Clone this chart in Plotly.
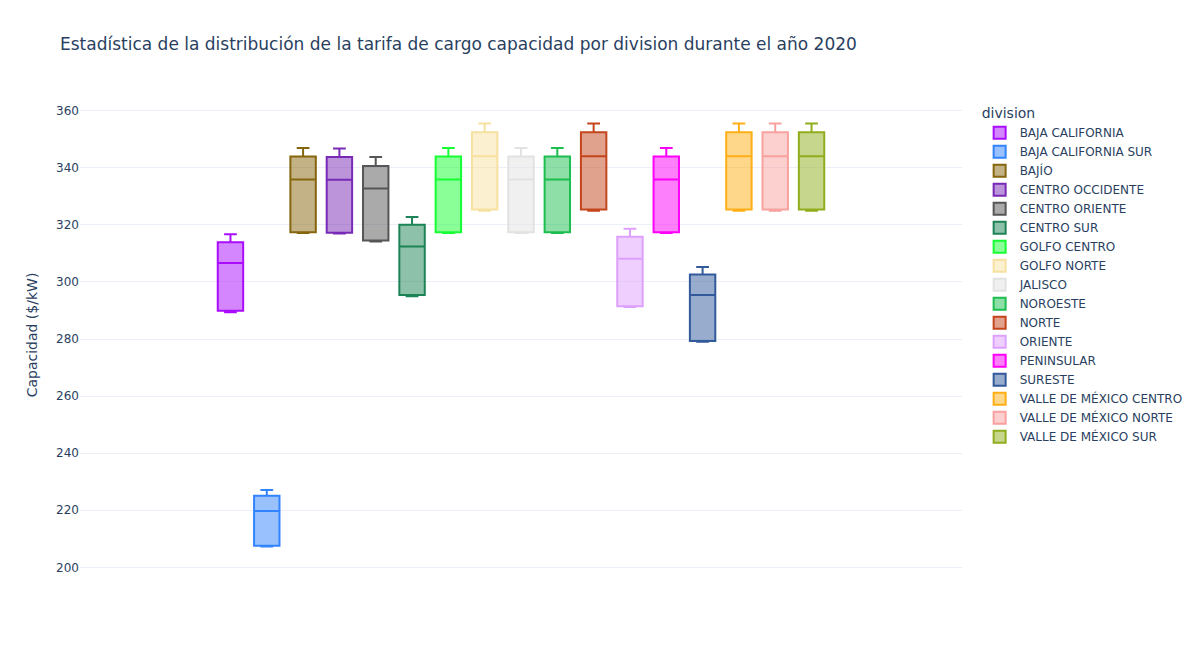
import plotly.graph_objects as go

divisions = ["BAJA CALIFORNIA", "BAJA CALIFORNIA SUR", "BAJÍO", "CENTRO OCCIDENTE",
             "CENTRO ORIENTE", "CENTRO SUR", "GOLFO CENTRO", "GOLFO NORTE", "JALISCO",
             "NOROESTE", "NORTE", "ORIENTE", "PENINSULAR", "SURESTE",
             "VALLE DE MÉXICO CENTRO", "VALLE DE MÉXICO NORTE", "VALLE DE MÉXICO SUR"]

lower = [289.4, 207.3, 317.1, 317.0, 314.2, 295.0, 317.1, 324.9, 317.1,
         317.1, 324.9, 291.2, 317.1, 279.0, 324.9, 324.9, 324.9]
q1 = [289.9, 207.6, 317.4, 317.2, 314.5, 295.4, 317.4, 325.4, 317.4,
      317.4, 325.4, 291.5, 317.4, 279.3, 325.4, 325.4, 325.4]
median = [306.6, 219.7, 335.9, 335.8, 332.7, 312.4, 335.9, 344.0, 335.9,
          335.9, 344.0, 308.1, 335.9, 295.4, 344.0, 344.0, 344.0]
q3 = [313.9, 225.1, 343.9, 343.8, 340.6, 320.0, 343.9, 352.4, 343.9,
      343.9, 352.4, 315.8, 343.9, 302.6, 352.4, 352.4, 352.4]
upper = [316.7, 227.1, 346.9, 346.7, 343.8, 322.7, 346.9, 355.5, 346.9,
         346.9, 355.5, 318.6, 346.9, 305.2, 355.5, 355.5, 355.5]

colors = ['#AA0DFE', '#3283FE', '#85660D', '#782AB6', '#565656', '#1C8356', '#16FF32',
          '#F7E1A0', '#E2E2E2', '#1CBE4F', '#C4451C', '#DEA0FD', '#FE00FA', '#325A9B',
          '#FEAF16', '#F8A19F', '#90AD1C']

fig = go.Figure()
for i, d in enumerate(divisions):
    fig.add_trace(go.Box(
        name=d, legendgroup=d, offsetgroup=d, alignmentgroup="True",
        x=[" "], q1=[q1[i]], median=[median[i]], q3=[q3[i]],
        lowerfence=[lower[i]], upperfence=[upper[i]],
        marker_color=colors[i], showlegend=True,
    ))

fig.update_layout(
    template="plotly_white",
    width=1200, height=650,
    boxmode="group",
    font=dict(family="Verdana, DejaVu Sans, sans-serif"),
    title=dict(text="Estadística de la distribución de la tarifa de cargo capacidad por division durante el año 2020"),
    legend=dict(title=dict(text="division"), tracegroupgap=0),
    yaxis=dict(title=dict(text="Capacidad ($/kW)")),
    xaxis=dict(showticklabels=False),
)

fig.write_html("out.html")
